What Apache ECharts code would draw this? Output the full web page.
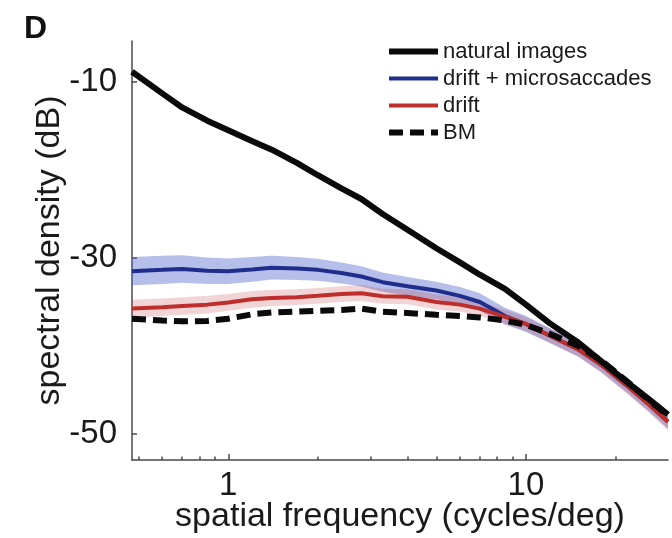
<!DOCTYPE html>
<html>
<head>
<meta charset="utf-8">
<script src="https://cdn.jsdelivr.net/npm/echarts@6/dist/echarts.min.js"></script>
<style>
  html, body { margin: 0; padding: 0; background: #fff; }
  #chart { width: 672px; height: 538px; }
</style>
</head>
<body>
<div id="chart"></div>
<script>
// spatial frequency (cycles/deg)
const freq = [0.475, 0.6, 0.7, 0.85, 1, 1.2, 1.4, 1.7, 2, 2.4, 2.8, 3.3, 4, 5, 6, 7, 8.5, 10, 12, 15, 18, 22, 26, 30]

// spectral density (dB)
const naturalImages = [-8.85, -11.3, -12.9, -14.4, -15.5, -16.7, -17.7, -19.2, -20.6, -22.1, -23.3, -25.0, -26.8, -28.9, -30.5, -31.9, -33.5, -35.3, -37.4, -39.6, -41.8, -44.2, -46.1, -47.8]
const driftMicro = [-31.5, -31.35, -31.25, -31.45, -31.5, -31.3, -31.1, -31.2, -31.35, -31.7, -32.1, -32.75, -33.2, -33.7, -34.3, -35.0, -36.6, -37.5, -38.8, -40.4, -42.2, -44.6, -46.7, -48.6]
const driftMicroErr = [1.6, 1.6, 1.55, 1.5, 1.45, 1.4, 1.35, 1.3, 1.25, 1.2, 1.15, 1.1, 1.05, 1.0, 1.0, 1.0, 0.95, 0.9, 0.85, 0.8, 0.8, 0.8, 0.8, 0.8]
const drift = [-35.75, -35.6, -35.45, -35.3, -35.05, -34.7, -34.55, -34.45, -34.3, -34.1, -34.0, -34.35, -34.4, -35.0, -35.3, -35.75, -36.7, -37.5, -38.8, -40.4, -42.2, -44.6, -46.7, -48.6]
const driftErr = [1.0, 1.0, 1.0, 1.0, 0.95, 0.95, 0.9, 0.9, 0.9, 0.9, 0.9, 0.85, 0.85, 0.85, 0.8, 0.8, 0.8, 0.8, 0.8, 0.85, 0.9, 0.9, 0.95, 1.0]
const bm = [-36.9, -37.1, -37.2, -37.15, -36.9, -36.4, -36.2, -36.1, -36.0, -35.9, -35.75, -36.1, -36.25, -36.45, -36.6, -36.75, -37.1, -37.6, -38.6, -40.0, -41.7, -44.1, -46.2, -47.9]

// ticks
const yTicks = [-50, -30, -10]
const xMajorTicks = [1, 10]
const xMinorTicks = [0.5, 0.6, 0.7, 0.8, 0.9, 2, 3, 4, 5, 6, 7, 8, 9, 20]

const FONT = "'Liberation Sans', Arial, sans-serif"
const X_MIN = 0.475
const X_MAX = 30
const AXIS_COLOR = '#4a4a4a'

const pairs = (ys) => freq.map((f, i) => [f, ys[i]])

// tick-only overlay axes (log positions of the tick values)
function tickAxis(ticks, len) {
  return {
    type: 'value',
    position: 'bottom',
    min: Math.log10(X_MIN),
    max: Math.log10(X_MAX),
    axisLine: { show: false, onZero: false },
    axisLabel: { show: false },
    splitLine: { show: false },
    axisTick: {
      show: true,
      inside: true,
      length: len,
      customValues: ticks.map(Math.log10),
      lineStyle: { color: AXIS_COLOR, width: 1.5 }
    }
  }
}

// shaded error band: one polygon, upper edge then lower edge
function bandSeries(key, ys, err, color) {
  return {
    name: key,
    type: 'custom',
    silent: true,
    data: freq.map((f, i) => [f, ys[i] - err[i], ys[i] + err[i]]),
    encode: { x: 0, y: [1, 2] },
    renderItem: (params, api) => {
      if (params.dataIndex !== 0) return null
      const pts = []
      for (let i = 0; i < freq.length; i++) pts.push(api.coord([freq[i], ys[i] + err[i]]))
      for (let i = freq.length - 1; i >= 0; i--) pts.push(api.coord([freq[i], ys[i] - err[i]]))
      return {
        type: 'polygon',
        shape: { points: pts },
        style: { fill: color, stroke: null }
      }
    }
  }
}

const chart = echarts.init(document.getElementById('chart'), null, { renderer: 'canvas' })

const option = {
  animation: false,
  backgroundColor: '#fff',
  title: {
    text: 'D',
    left: 24,
    top: 13,
    padding: 0,
    textStyle: { fontSize: 32, fontWeight: 'bold', color: '#111', fontFamily: FONT }
  },
  legend: {
    data: ['natural images', 'drift + microsaccades', 'drift', 'BM'],
    orient: 'vertical',
    left: 386,
    top: 38,
    padding: 0,
    itemWidth: 49,
    itemHeight: 14,
    itemGap: 0,
    selectedMode: false,
    itemStyle: { opacity: 0 },
    lineStyle: { width: 'inherit' },
    textStyle: { fontSize: 22, color: '#1a1a1a', fontFamily: FONT, lineHeight: 27 }
  },
  grid: { left: 132, right: 4, top: 41, bottom: 78, outerBoundsMode: 'none' },
  xAxis: [
    {
      type: 'log',
      logBase: 10,
      position: 'bottom',
      min: X_MIN,
      max: X_MAX,
      axisLine: { show: true, onZero: false, lineStyle: { color: AXIS_COLOR, width: 1.5 } },
      axisTick: { show: false },
      minorTick: { show: false },
      splitLine: { show: false },
      axisLabel: {
        showMinLabel: false,
        showMaxLabel: false,
        margin: 9,
        fontSize: 33,
        color: '#1a1a1a',
        fontFamily: FONT
      },
      name: 'spatial frequency (cycles/deg)',
      nameLocation: 'middle',
      nameGap: 40,
      nameMoveOverlap: false,
      nameTextStyle: { fontSize: 34, color: '#1a1a1a', fontFamily: FONT }
    },
    tickAxis(xMajorTicks, 6),
    tickAxis(xMinorTicks, 3.5)
  ],
  yAxis: {
    type: 'value',
    min: -52.95,
    max: -5.35,
    axisLine: { show: true, onZero: false, lineStyle: { color: AXIS_COLOR, width: 1.5 } },
    axisTick: {
      show: true,
      inside: true,
      length: 5,
      customValues: yTicks,
      lineStyle: { color: AXIS_COLOR, width: 1.5 }
    },
    axisLabel: {
      customValues: yTicks,
      margin: 15,
      padding: [6, 0, 0, 0],
      fontSize: 33,
      color: '#1a1a1a',
      fontFamily: FONT
    },
    splitLine: { show: false },
    name: 'spectral density (dB)',
    nameLocation: 'middle',
    nameGap: 65,
    nameMoveOverlap: false,
    nameTextStyle: { fontSize: 34, color: '#1a1a1a', fontFamily: FONT }
  },
  series: [
    bandSeries('blueBand', driftMicro, driftMicroErr, 'rgba(70, 95, 200, 0.4)'),
    bandSeries('redBand', drift, driftErr, 'rgba(190, 60, 70, 0.22)'),
    {
      name: 'drift + microsaccades',
      type: 'line',
      data: pairs(driftMicro),
      symbol: 'none',
      lineStyle: { width: 4, color: '#1f2d8c' },
      itemStyle: { color: '#1f2d8c' }
    },
    {
      name: 'drift',
      type: 'line',
      data: pairs(drift),
      symbol: 'none',
      lineStyle: { width: 4, color: '#be2f2c' },
      itemStyle: { color: '#be2f2c' }
    },
    {
      name: 'natural images',
      type: 'line',
      data: pairs(naturalImages),
      symbol: 'none',
      lineStyle: { width: 6, color: '#0a0a0a' },
      itemStyle: { color: '#0a0a0a' }
    },
    {
      name: 'BM',
      type: 'line',
      data: pairs(bm),
      symbol: 'none',
      lineStyle: { width: 6, color: '#0a0a0a', type: [14, 7], cap: 'butt' },
      itemStyle: { color: '#0a0a0a' }
    }
  ]
}

chart.setOption(option)
</script>
</body>
</html>
